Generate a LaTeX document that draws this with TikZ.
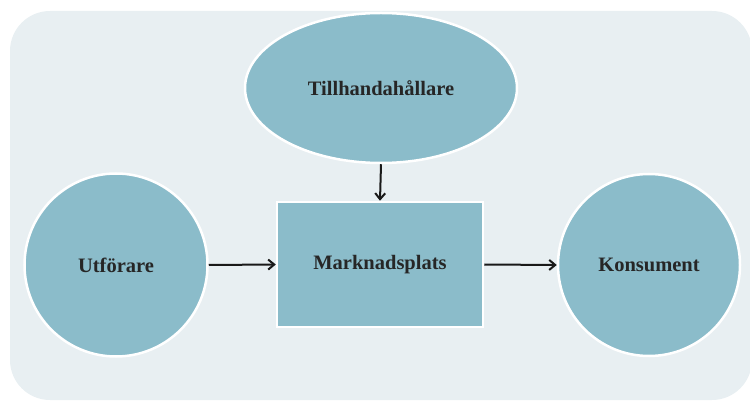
\documentclass[tikz,border=0pt]{standalone}
\usepackage{fontspec}
\setmainfont{Liberation Serif}
\usetikzlibrary{shapes.geometric,arrows.meta}
\definecolor{bgc}{HTML}{E8EFF2}
\definecolor{fillc}{HTML}{8BBCCA}
\tikzset{
  shp/.style={fill=fillc,draw=white,line width=2.5pt,font=\bfseries\fontsize{20.5}{24}\selectfont,text=black!85,inner sep=0pt},
  conn/.style={-{Straight Barb[length=6pt,width=10pt]},line width=2pt,black!90}
}
\begin{document}
\begin{tikzpicture}[x=1pt,y=-1pt]
\useasboundingbox (0,0) rectangle (750,403);
\fill[bgc,rounded corners=40pt] (10,11) rectangle (752,400);
\node[shp,ellipse,minimum width=272pt,minimum height=150pt] (t) at (381,88) {Tillhandahållare};
\node[shp,circle,minimum size=183pt] (u) at (116,265) {Utförare};
\node[shp,rectangle,minimum width=206pt,minimum height=125pt] (m) at (380,264.5) {Marknadsplats};
\node[shp,circle,minimum size=182pt] (k) at (649,265) {Konsument};
\draw[conn] (u.east) -- (m.west);
\draw[conn] (m.east) -- (k.west);
\draw[conn] (t.south) -- (m.north);
\end{tikzpicture}
\end{document}
